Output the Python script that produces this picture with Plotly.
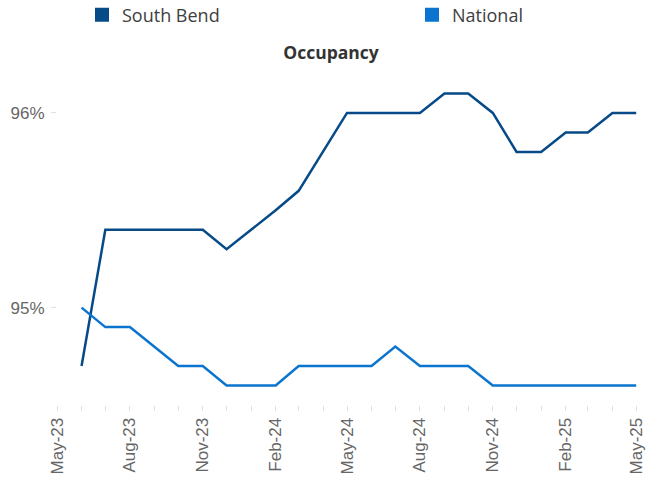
import plotly.graph_objects as go

months = ["2023-06-01", "2023-07-01", "2023-08-01", "2023-09-01", "2023-10-01", "2023-11-01",
          "2023-12-01", "2024-01-01", "2024-02-01", "2024-03-01", "2024-04-01", "2024-05-01",
          "2024-06-01", "2024-07-01", "2024-08-01", "2024-09-01", "2024-10-01", "2024-11-01",
          "2024-12-01", "2025-01-01", "2025-02-01", "2025-03-01", "2025-04-01", "2025-05-01"]
south_bend = [94.7, 95.4, 95.4, 95.4, 95.4, 95.4, 95.3, 95.4, 95.5, 95.6, 95.8, 96.0,
              96.0, 96.0, 96.0, 96.1, 96.1, 96.0, 95.8, 95.8, 95.9, 95.9, 96.0, 96.0]
national = [95.0, 94.9, 94.9, 94.8, 94.7, 94.7, 94.6, 94.6, 94.6, 94.7, 94.7, 94.7,
            94.7, 94.8, 94.7, 94.7, 94.7, 94.6, 94.6, 94.6, 94.6, 94.6, 94.6, 94.6]
tick_dates = ["2023-05-01", "2023-08-01", "2023-11-01", "2024-02-01", "2024-05-01",
              "2024-08-01", "2024-11-01", "2025-02-01", "2025-05-01"]
tick_labels = ["May-23", "Aug-23", "Nov-23", "Feb-24", "May-24", "Aug-24", "Nov-24", "Feb-25", "May-25"]
y_ticks = [95, 96]
y_labels = ["95%", "96%"]

SB_COLOR = "#064A87"
NAT_COLOR = "#0A74CF"

fig = go.Figure()
fig.add_trace(go.Scatter(x=months, y=south_bend, mode="lines", name="South Bend",
                         line=dict(color=SB_COLOR, width=2.5), showlegend=False))
fig.add_trace(go.Scatter(x=months, y=national, mode="lines", name="National",
                         line=dict(color=NAT_COLOR, width=2.5), showlegend=False))
# legend swatches (squares)
fig.add_trace(go.Scatter(x=[None], y=[None], mode="markers", name="South Bend",
                         marker=dict(symbol="square", size=14, color=SB_COLOR), legend="legend"))
fig.add_trace(go.Scatter(x=[None], y=[None], mode="markers", name="National",
                         marker=dict(symbol="square", size=14, color=NAT_COLOR), legend="legend2"))

legend_font = dict(family="Open Sans", size=18, color="#404040")
fig.update_layout(
    width=647, height=480,
    margin=dict(l=57, r=10, t=74, b=75, autoexpand=False),
    paper_bgcolor="white", plot_bgcolor="white",
    title=dict(text="<b>Occupancy</b>", x=331/647, xref="container", xanchor="center",
               y=1 - 53/480, yref="container", yanchor="middle",
               font=dict(family="Open Sans", size=17.5, color="#333333")),
    legend=dict(xref="container", yref="container", x=(104-22)/647, y=1 - 15/480,
                xanchor="left", yanchor="middle", orientation="h", font=legend_font,
                bgcolor="rgba(0,0,0,0)"),
    legend2=dict(xref="container", yref="container", x=(434-22)/647, y=1 - 15/480,
                 xanchor="left", yanchor="middle", orientation="h", font=legend_font,
                 bgcolor="rgba(0,0,0,0)"),
    xaxis=dict(type="date", range=["2023-05-01", "2025-05-02"], tickvals=tick_dates,
               ticktext=tick_labels, tickangle=-90, showgrid=False, zeroline=False,
               showline=False, ticks="outside", ticklen=5, tickcolor="#e0e0e0", automargin=False,
               ticklabeloverflow="allow",
               tickfont=dict(family="Liberation Sans", size=17, color="#666666"),
               minor=dict(dtick="M1", ticks="outside", ticklen=5, tickcolor="#e0e0e0", showgrid=False)),
    yaxis=dict(range=[94.5, 96.2], tickvals=y_ticks, ticktext=y_labels, showgrid=False,
               zeroline=False, showline=False, ticks="outside", ticklen=5, tickcolor="#e0e0e0",
               automargin=False, ticklabelstandoff=3,
               tickfont=dict(family="Liberation Sans", size=17, color="#666666")),
)

fig.write_html("out.html", config={"displayModeBar": False},
               post_script="document.body.style.margin='0';")
